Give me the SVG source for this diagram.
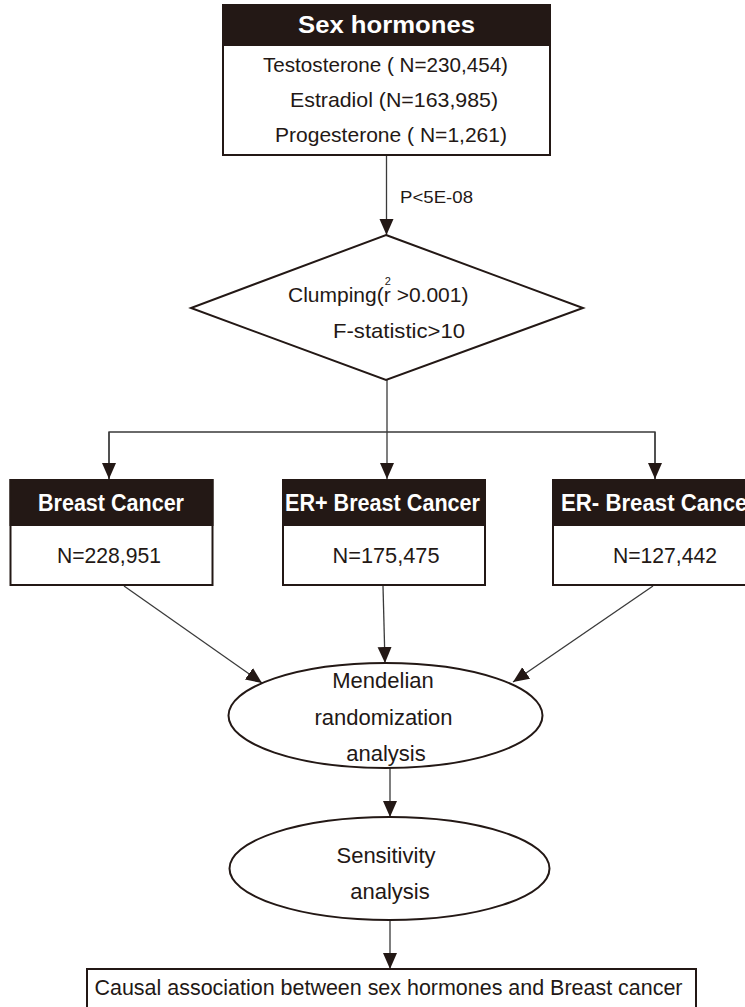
<svg xmlns="http://www.w3.org/2000/svg" width="745" height="1007" viewBox="0 0 745 1007">
<style>
.box{fill:#ffffff;stroke:#231815;stroke-width:2}
.hdr{fill:#231815;stroke:#231815;stroke-width:2}
.shape{fill:#ffffff;stroke:#231815;stroke-width:2}
.t{font-family:"Liberation Sans",Arial,sans-serif;font-size:21px;fill:#231815}
.h{font-family:"Liberation Sans",Arial,sans-serif;font-size:23px;font-weight:bold;fill:#ffffff}
.c{text-anchor:middle}
.ln{fill:none;stroke:#3a3a3a;stroke-width:1.3}
</style>
<defs>
<marker id="ah" markerUnits="userSpaceOnUse" markerWidth="17" markerHeight="15" refX="16" refY="7" orient="auto">
<path d="M0,0 L16,7 L0,14 Z" fill="#231815"/>
</marker>
</defs>
<rect width="745" height="1007" fill="#ffffff"/>

<g id="connectors">
<line class="ln" x1="386.5" y1="155" x2="386.5" y2="235" marker-end="url(#ah)"/>
<line class="ln" x1="387" y1="380" x2="387" y2="479" marker-end="url(#ah)"/>
<polyline class="ln" points="109,479 109,432 655,432 655,479"/>
<line class="ln" x1="109" y1="432" x2="109" y2="479" marker-end="url(#ah)"/>
<line class="ln" x1="655" y1="432" x2="655" y2="479" marker-end="url(#ah)"/>
<line class="ln" x1="124" y1="586" x2="262" y2="683" marker-end="url(#ah)"/>
<line class="ln" x1="383" y1="586" x2="385" y2="663" marker-end="url(#ah)"/>
<line class="ln" x1="653" y1="586" x2="513" y2="682" marker-end="url(#ah)"/>
<line class="ln" x1="390" y1="768" x2="390" y2="817" marker-end="url(#ah)"/>
<line class="ln" x1="390" y1="920" x2="390" y2="969" marker-end="url(#ah)"/>
<text class="t" x="400" y="203" style="font-size:17px" textLength="73" lengthAdjust="spacingAndGlyphs">P&lt;5E-08</text>
</g>

<g id="sex-hormones">
<rect class="box" x="223" y="5" width="327" height="150"/>
<rect class="hdr" x="223" y="5" width="327" height="40"/>
<text class="h c" x="386.5" y="33" style="font-size:24px" textLength="177" lengthAdjust="spacingAndGlyphs">Sex hormones</text>
<text class="t" x="263" y="72" textLength="245" lengthAdjust="spacingAndGlyphs">Testosterone ( N=230,454)</text>
<text class="t" x="290" y="107" textLength="208" lengthAdjust="spacingAndGlyphs">Estradiol (N=163,985)</text>
<text class="t" x="275" y="142" textLength="232" lengthAdjust="spacingAndGlyphs">Progesterone ( N=1,261)</text>
</g>

<g id="clumping">
<polygon class="shape" points="386,235 583,308 386,380 191,308"/>
<text class="t" x="288" y="302">Clumping(r<tspan dx="-6" dy="-17" style="font-size:11px">2</tspan><tspan dy="17"> &gt;0.001)</tspan></text>
<text class="t" x="333" y="338" textLength="132" lengthAdjust="spacingAndGlyphs">F-statistic&gt;10</text>
</g>

<g id="breast-cancer">
<rect class="box" x="10.5" y="480" width="202" height="105"/>
<rect class="hdr" x="10.5" y="480" width="202" height="45"/>
<text class="h" x="38" y="511" textLength="146" lengthAdjust="spacingAndGlyphs">Breast Cancer</text>
<text class="t" x="57" y="563" style="font-size:22px" textLength="104" lengthAdjust="spacingAndGlyphs">N=228,951</text>
</g>

<g id="er-pos">
<rect class="box" x="283" y="480" width="202" height="105"/>
<rect class="hdr" x="283" y="480" width="202" height="45"/>
<text class="h" x="285" y="511" textLength="195" lengthAdjust="spacingAndGlyphs">ER+ Breast Cancer</text>
<text class="t" x="332.5" y="563" style="font-size:22px" textLength="107" lengthAdjust="spacingAndGlyphs">N=175,475</text>
</g>

<g id="er-neg">
<rect class="box" x="553" y="480" width="210" height="105"/>
<rect class="hdr" x="553" y="480" width="210" height="45"/>
<text class="h" x="561" y="511" textLength="195" lengthAdjust="spacingAndGlyphs">ER- Breast Cancer</text>
<text class="t" x="613" y="563" style="font-size:22px" textLength="104" lengthAdjust="spacingAndGlyphs">N=127,442</text>
</g>

<g id="mr-analysis">
<ellipse class="shape" cx="385.5" cy="715.5" rx="157" ry="52.5"/>
<text class="t c" x="383" y="688" style="font-size:22px">Mendelian</text>
<text class="t c" x="383.5" y="725" style="font-size:22px">randomization</text>
<text class="t c" x="386" y="761" style="font-size:22px">analysis</text>
</g>

<g id="sensitivity">
<ellipse class="shape" cx="389.5" cy="868.5" rx="160" ry="51.5"/>
<text class="t c" x="386" y="863" style="font-size:22px">Sensitivity</text>
<text class="t c" x="390" y="899" style="font-size:22px">analysis</text>
</g>

<g id="conclusion">
<rect class="box" x="87" y="969" width="609" height="50"/>
<text class="t" x="94.5" y="995" style="font-size:22px" textLength="588" lengthAdjust="spacingAndGlyphs">Causal association between sex hormones and Breast cancer</text>
</g>
</svg>
